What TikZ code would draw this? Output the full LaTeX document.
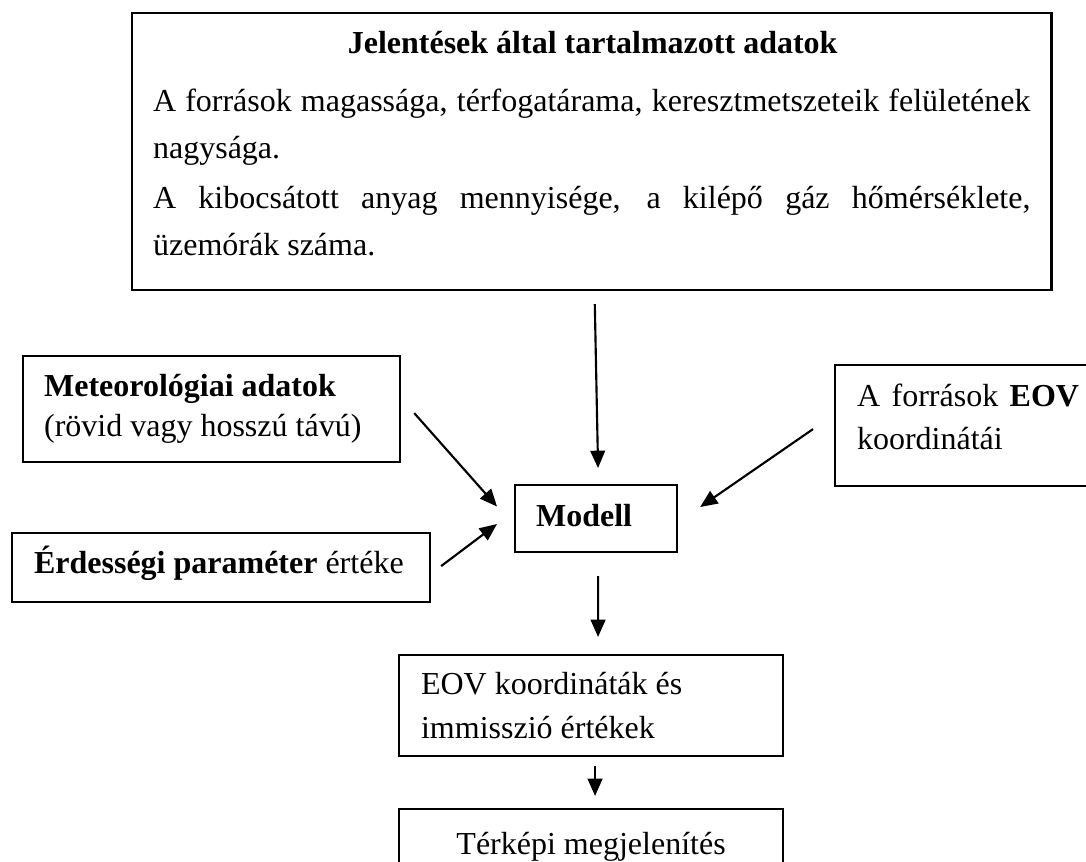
\documentclass[tikz,border=0pt]{standalone}
\usepackage{fontspec}
\setmainfont{Liberation Serif}
\usetikzlibrary{arrows.meta}

\begin{document}
\begin{tikzpicture}[x=0.375pt,y=-0.375pt,
  box/.style={draw, line width=0.8pt, anchor=north west, inner xsep=7.9pt,
    inner ysep=4pt, align=justify, font=\fontsize{12}{15}\selectfont},
  arr/.style={-{Triangle[length=6.5pt,width=5.5pt]}, line width=0.8pt}]
  \useasboundingbox (0,0) rectangle (1086,861);
  % input data
  \node[box, text width=329pt, text height=11pt, text depth=84.9pt,
    font=\fontsize{12}{17.6}\selectfont] (rep) at (131,12)
    {\hspace*{73pt}\textbf{Jelentések által tartalmazott adatok}\\[4.15pt]
     A források magassága, térfogatárama, keresztmetszeteik felületének\linebreak nagysága.\\[1.5pt]
     A kibocsátott anyag mennyisége, a kilépő gáz hőmérséklete,\linebreak üzemórák száma.};
  \node[box, text width=125.6pt, text height=11pt, text depth=20.75pt] (met) at (22,355)
    {\textbf{Meteorológiai adatok}\\(rövid vagy hosszú távú)};
  \node[box, inner xsep=8.25pt, text width=140.25pt, text height=11.2pt, text depth=6.7pt] (erd) at (11,532)
    {\textbf{Érdességi paraméter} értéke};
  \node[box, inner xsep=8.25pt, text width=83.25pt, text height=11.4pt, text depth=26pt,
    font=\fontsize{12}{16.1}\selectfont] (src) at (834,364)
    {A források \textbf{EOV}\linebreak koordinátái\hspace*{20pt}};
  % model and results
  \node[box, text width=44.95pt, text height=11.4pt, text depth=5.7pt] (model) at (514,484)
    {\textbf{Modell}};
  \node[box, inner xsep=8.25pt, text width=127.5pt, text height=10.6pt, text depth=19.3pt,
    font=\fontsize{12}{16.5}\selectfont] (res) at (398,654)
    {EOV koordináták és\\immisszió értékek};
  \node[box, align=center, minimum width=144pt, text height=12.9pt, text depth=6.1pt] (map) at (398,808)
    {Térképi megjelenítés};
  % arrows
  \draw[arr]([shift={(3,13)}]rep.south)--([shift={(2,-16)}]model.north);
  \draw[arr]([shift={(13,4)}]met.east)--([shift={(-17,-12)}]model.west);
  \draw[arr]([shift={(10,-1.5)}]erd.east)--([shift={(-17,5.5)}]model.west);
  \draw[arr]([shift={(-21,3.5)}]src.west)--([shift={(22,-11.5)}]model.east);
  \draw[arr]([shift={(2,23)}]model.south)--([shift={(7,-17)}]res.north);
  \draw[arr]([shift={(4,9)}]res.south)--([shift={(4,-12)}]map.north);
\end{tikzpicture}
\end{document}
